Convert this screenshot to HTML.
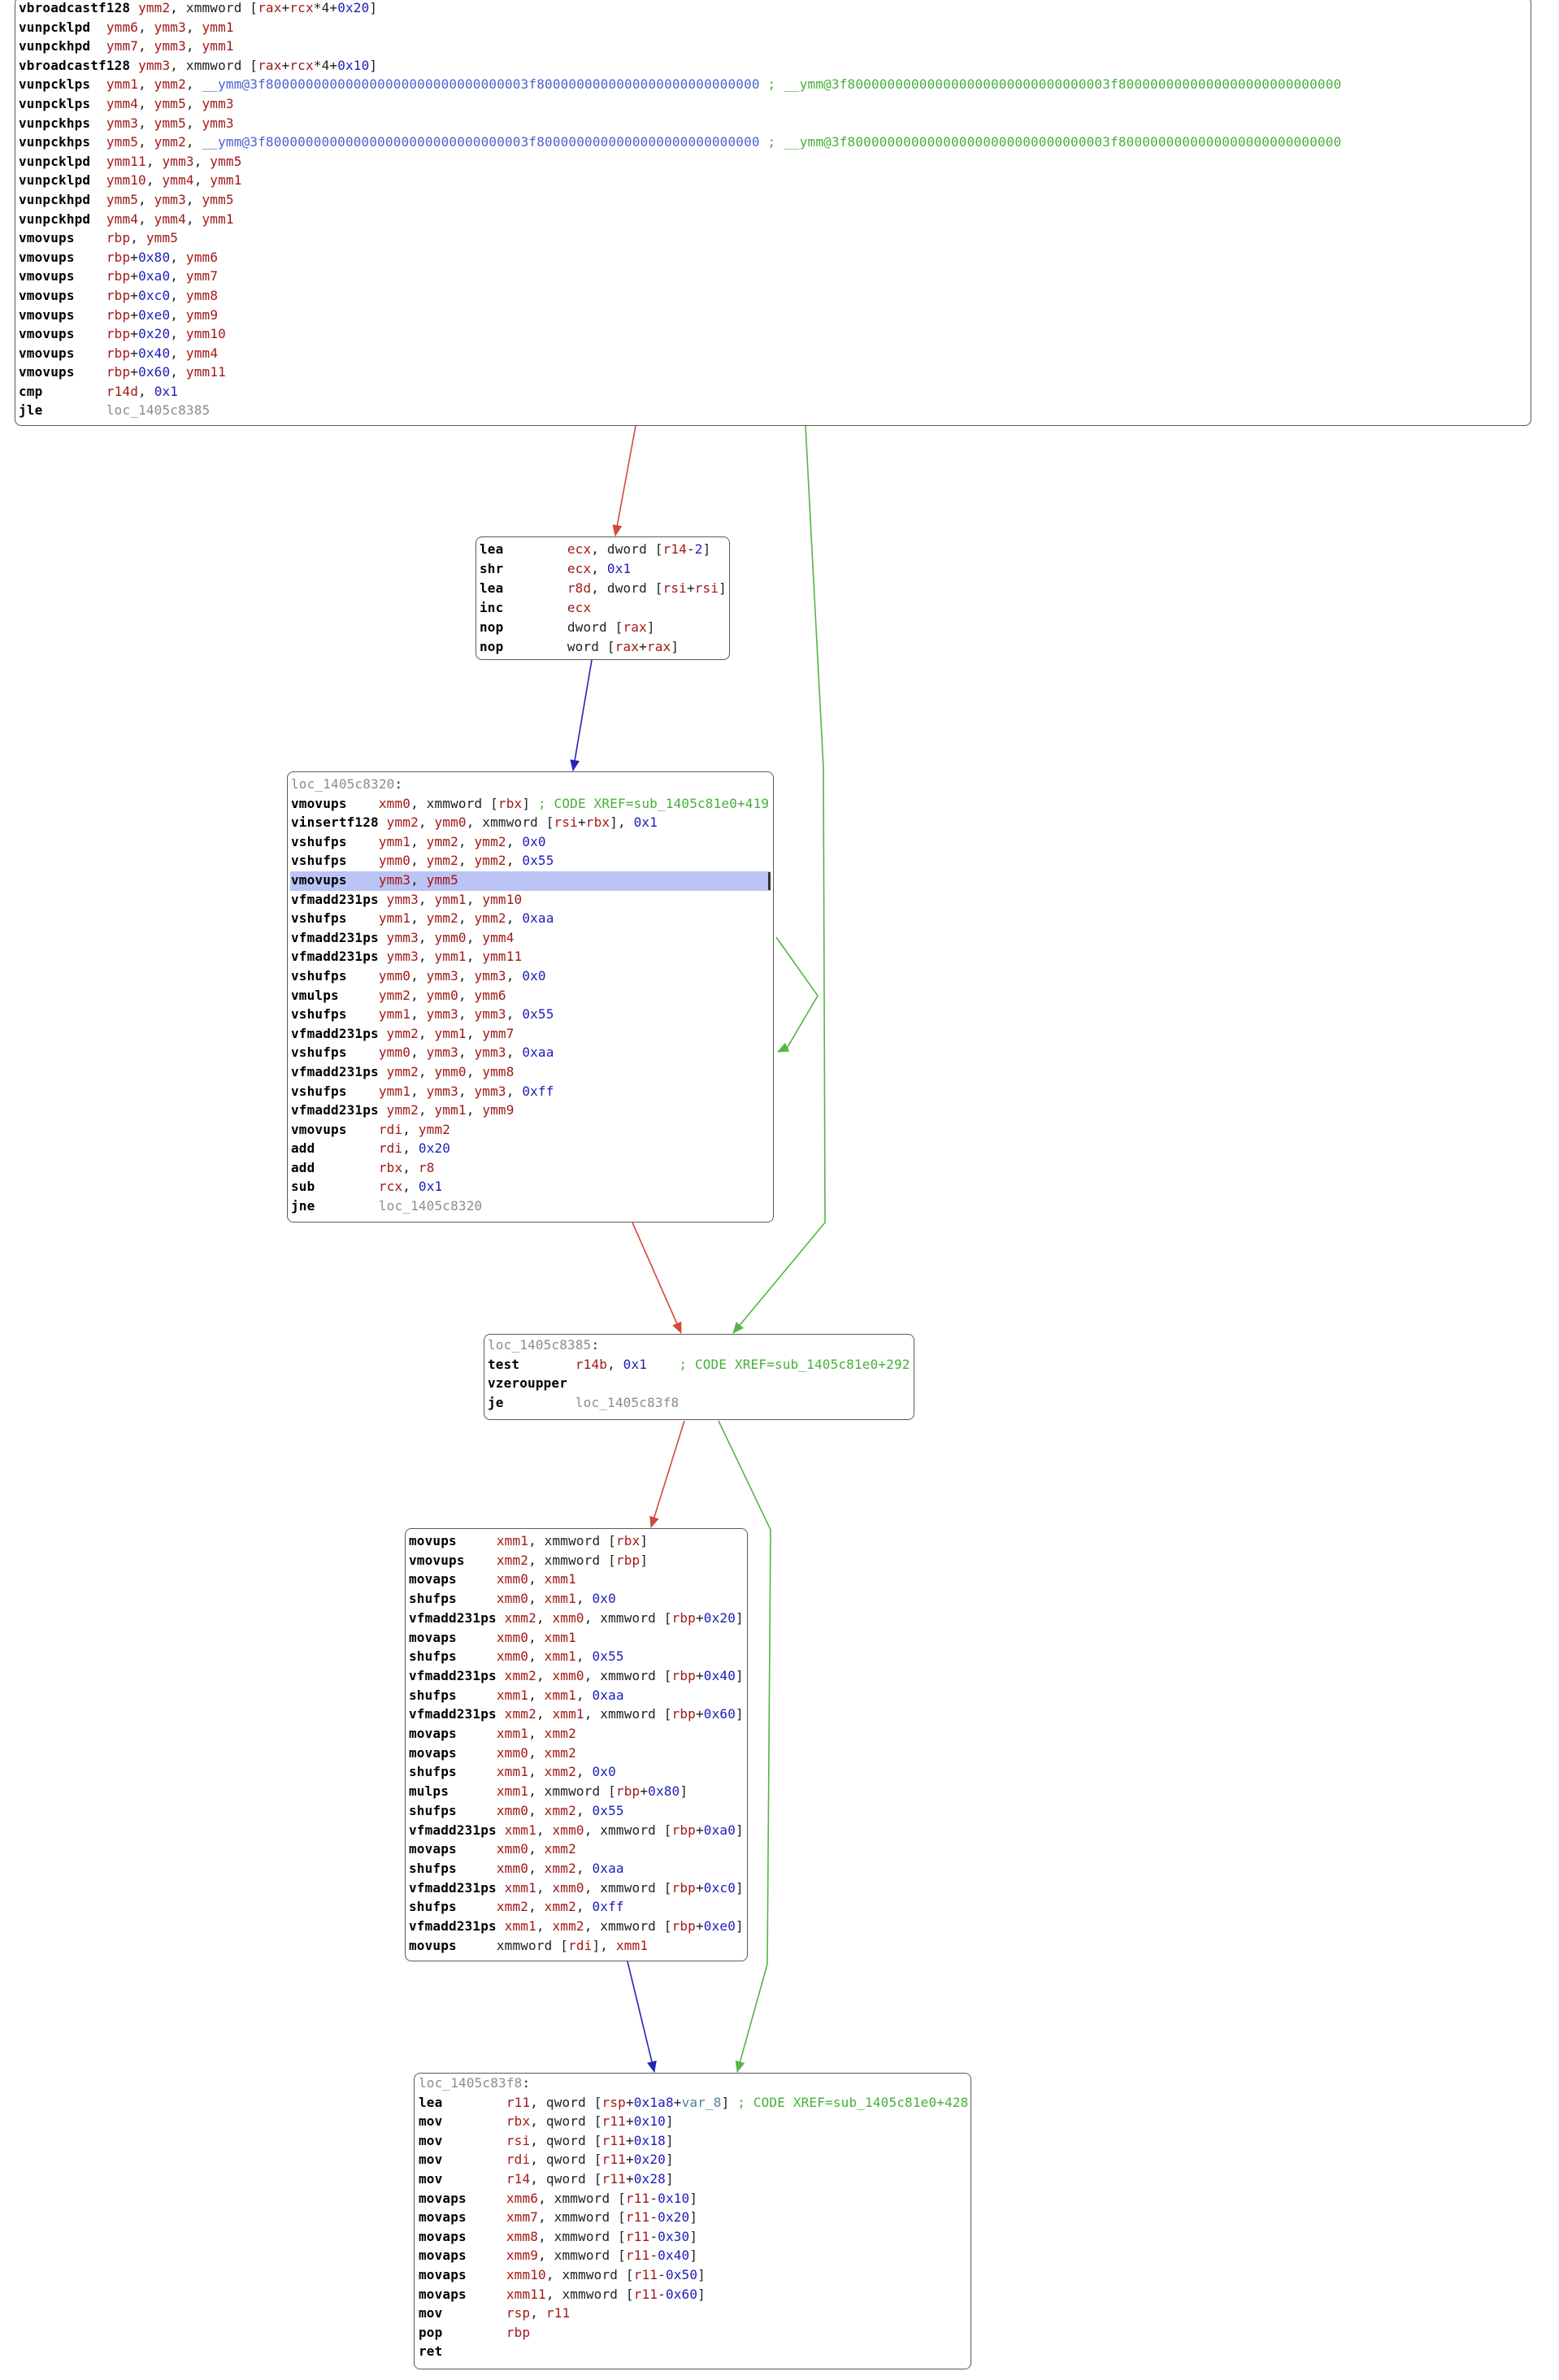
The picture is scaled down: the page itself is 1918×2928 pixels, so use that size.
<!DOCTYPE html>
<html><head><meta charset="utf-8">
<style>
html,body{margin:0;padding:0;background:#fff;}
body{width:1918px;height:2928px;position:relative;overflow:hidden;}
.box{position:absolute;border:1.5px solid #5a5a5a;border-radius:8px;background:#fff;box-sizing:border-box;}
.t{position:absolute;font-family:"DejaVu Sans Mono","Liberation Mono",monospace;font-size:16px;letter-spacing:0.17px;white-space:pre;color:#222;}
.t b{font-weight:bold;color:#000;}
.r{color:#a31818;}
.n{color:#1c1cb8;}
.l{color:#8c8c8c;}
.c{color:#46b03a;}
.k{color:#4a62d2;}
.v{color:#4f8296;}
svg{position:absolute;left:0;top:0;}
</style></head><body>

<div class="box" style="left:18px;top:-4px;width:1866px;height:528px;"></div>
<div class="t" style="left:23px;top:-2px;line-height:23.6px;"><b>vbroadcastf128</b> <span class="r">ymm2</span>, xmmword [<span class="r">rax</span>+<span class="r">rcx</span>*4+<span class="n">0x20</span>]
<b>vunpcklpd</b>  <span class="r">ymm6</span>, <span class="r">ymm3</span>, <span class="r">ymm1</span>
<b>vunpckhpd</b>  <span class="r">ymm7</span>, <span class="r">ymm3</span>, <span class="r">ymm1</span>
<b>vbroadcastf128</b> <span class="r">ymm3</span>, xmmword [<span class="r">rax</span>+<span class="r">rcx</span>*4+<span class="n">0x10</span>]
<b>vunpcklps</b>  <span class="r">ymm1</span>, <span class="r">ymm2</span>, <span class="k">__ymm@3f800000000000000000000000000000003f8000000000000000000000000000</span> <span class="c">; __ymm@3f800000000000000000000000000000003f8000000000000000000000000000</span>
<b>vunpcklps</b>  <span class="r">ymm4</span>, <span class="r">ymm5</span>, <span class="r">ymm3</span>
<b>vunpckhps</b>  <span class="r">ymm3</span>, <span class="r">ymm5</span>, <span class="r">ymm3</span>
<b>vunpckhps</b>  <span class="r">ymm5</span>, <span class="r">ymm2</span>, <span class="k">__ymm@3f800000000000000000000000000000003f8000000000000000000000000000</span> <span class="c">; __ymm@3f800000000000000000000000000000003f8000000000000000000000000000</span>
<b>vunpcklpd</b>  <span class="r">ymm11</span>, <span class="r">ymm3</span>, <span class="r">ymm5</span>
<b>vunpcklpd</b>  <span class="r">ymm10</span>, <span class="r">ymm4</span>, <span class="r">ymm1</span>
<b>vunpckhpd</b>  <span class="r">ymm5</span>, <span class="r">ymm3</span>, <span class="r">ymm5</span>
<b>vunpckhpd</b>  <span class="r">ymm4</span>, <span class="r">ymm4</span>, <span class="r">ymm1</span>
<b>vmovups</b>    <span class="r">rbp</span>, <span class="r">ymm5</span>
<b>vmovups</b>    <span class="r">rbp</span>+<span class="n">0x80</span>, <span class="r">ymm6</span>
<b>vmovups</b>    <span class="r">rbp</span>+<span class="n">0xa0</span>, <span class="r">ymm7</span>
<b>vmovups</b>    <span class="r">rbp</span>+<span class="n">0xc0</span>, <span class="r">ymm8</span>
<b>vmovups</b>    <span class="r">rbp</span>+<span class="n">0xe0</span>, <span class="r">ymm9</span>
<b>vmovups</b>    <span class="r">rbp</span>+<span class="n">0x20</span>, <span class="r">ymm10</span>
<b>vmovups</b>    <span class="r">rbp</span>+<span class="n">0x40</span>, <span class="r">ymm4</span>
<b>vmovups</b>    <span class="r">rbp</span>+<span class="n">0x60</span>, <span class="r">ymm11</span>
<b>cmp</b>        <span class="r">r14d</span>, <span class="n">0x1</span>
<b>jle</b>        <span class="l">loc_1405c8385</span></div>

<div class="box" style="left:585px;top:660px;width:313px;height:152px;"></div>
<div class="t" style="left:590px;top:664px;line-height:24px;"><b>lea</b>        <span class="r">ecx</span>, dword [<span class="r">r14</span>-<span class="n">2</span>]
<b>shr</b>        <span class="r">ecx</span>, <span class="n">0x1</span>
<b>lea</b>        <span class="r">r8d</span>, dword [<span class="r">rsi</span>+<span class="r">rsi</span>]
<b>inc</b>        <span class="r">ecx</span>
<b>nop</b>        dword [<span class="r">rax</span>]
<b>nop</b>        word [<span class="r">rax</span>+<span class="r">rax</span>]</div>

<div class="box" style="left:353px;top:949px;width:599px;height:555px;"></div>
<div style="position:absolute;left:357px;top:1072px;width:591px;height:24px;background:#bcc3f5;"></div>
<div style="position:absolute;left:945px;top:1073px;width:3px;height:22px;background:#333;"></div>
<div class="t" style="left:358px;top:953px;line-height:23.6px;"><span class="l">loc_1405c8320</span>:
<b>vmovups</b>    <span class="r">xmm0</span>, xmmword [<span class="r">rbx</span>] <span class="c">; CODE XREF=sub_1405c81e0+419</span>
<b>vinsertf128</b> <span class="r">ymm2</span>, <span class="r">ymm0</span>, xmmword [<span class="r">rsi</span>+<span class="r">rbx</span>], <span class="n">0x1</span>
<b>vshufps</b>    <span class="r">ymm1</span>, <span class="r">ymm2</span>, <span class="r">ymm2</span>, <span class="n">0x0</span>
<b>vshufps</b>    <span class="r">ymm0</span>, <span class="r">ymm2</span>, <span class="r">ymm2</span>, <span class="n">0x55</span>
<b>vmovups</b>    <span class="r">ymm3</span>, <span class="r">ymm5</span>
<b>vfmadd231ps</b> <span class="r">ymm3</span>, <span class="r">ymm1</span>, <span class="r">ymm10</span>
<b>vshufps</b>    <span class="r">ymm1</span>, <span class="r">ymm2</span>, <span class="r">ymm2</span>, <span class="n">0xaa</span>
<b>vfmadd231ps</b> <span class="r">ymm3</span>, <span class="r">ymm0</span>, <span class="r">ymm4</span>
<b>vfmadd231ps</b> <span class="r">ymm3</span>, <span class="r">ymm1</span>, <span class="r">ymm11</span>
<b>vshufps</b>    <span class="r">ymm0</span>, <span class="r">ymm3</span>, <span class="r">ymm3</span>, <span class="n">0x0</span>
<b>vmulps</b>     <span class="r">ymm2</span>, <span class="r">ymm0</span>, <span class="r">ymm6</span>
<b>vshufps</b>    <span class="r">ymm1</span>, <span class="r">ymm3</span>, <span class="r">ymm3</span>, <span class="n">0x55</span>
<b>vfmadd231ps</b> <span class="r">ymm2</span>, <span class="r">ymm1</span>, <span class="r">ymm7</span>
<b>vshufps</b>    <span class="r">ymm0</span>, <span class="r">ymm3</span>, <span class="r">ymm3</span>, <span class="n">0xaa</span>
<b>vfmadd231ps</b> <span class="r">ymm2</span>, <span class="r">ymm0</span>, <span class="r">ymm8</span>
<b>vshufps</b>    <span class="r">ymm1</span>, <span class="r">ymm3</span>, <span class="r">ymm3</span>, <span class="n">0xff</span>
<b>vfmadd231ps</b> <span class="r">ymm2</span>, <span class="r">ymm1</span>, <span class="r">ymm9</span>
<b>vmovups</b>    <span class="r">rdi</span>, <span class="r">ymm2</span>
<b>add</b>        <span class="r">rdi</span>, <span class="n">0x20</span>
<b>add</b>        <span class="r">rbx</span>, <span class="r">r8</span>
<b>sub</b>        <span class="r">rcx</span>, <span class="n">0x1</span>
<b>jne</b>        <span class="l">loc_1405c8320</span></div>

<div class="box" style="left:595px;top:1641px;width:530px;height:106px;"></div>
<div class="t" style="left:600px;top:1643px;line-height:23.7px;"><span class="l">loc_1405c8385</span>:
<b>test</b>       <span class="r">r14b</span>, <span class="n">0x1</span>    <span class="c">; CODE XREF=sub_1405c81e0+292</span>
<b>vzeroupper</b>
<b>je</b>         <span class="l">loc_1405c83f8</span></div>

<div class="box" style="left:498px;top:1880px;width:422px;height:533px;"></div>
<div class="t" style="left:503px;top:1884px;line-height:23.7px;"><b>movups</b>     <span class="r">xmm1</span>, xmmword [<span class="r">rbx</span>]
<b>vmovups</b>    <span class="r">xmm2</span>, xmmword [<span class="r">rbp</span>]
<b>movaps</b>     <span class="r">xmm0</span>, <span class="r">xmm1</span>
<b>shufps</b>     <span class="r">xmm0</span>, <span class="r">xmm1</span>, <span class="n">0x0</span>
<b>vfmadd231ps</b> <span class="r">xmm2</span>, <span class="r">xmm0</span>, xmmword [<span class="r">rbp</span>+<span class="n">0x20</span>]
<b>movaps</b>     <span class="r">xmm0</span>, <span class="r">xmm1</span>
<b>shufps</b>     <span class="r">xmm0</span>, <span class="r">xmm1</span>, <span class="n">0x55</span>
<b>vfmadd231ps</b> <span class="r">xmm2</span>, <span class="r">xmm0</span>, xmmword [<span class="r">rbp</span>+<span class="n">0x40</span>]
<b>shufps</b>     <span class="r">xmm1</span>, <span class="r">xmm1</span>, <span class="n">0xaa</span>
<b>vfmadd231ps</b> <span class="r">xmm2</span>, <span class="r">xmm1</span>, xmmword [<span class="r">rbp</span>+<span class="n">0x60</span>]
<b>movaps</b>     <span class="r">xmm1</span>, <span class="r">xmm2</span>
<b>movaps</b>     <span class="r">xmm0</span>, <span class="r">xmm2</span>
<b>shufps</b>     <span class="r">xmm1</span>, <span class="r">xmm2</span>, <span class="n">0x0</span>
<b>mulps</b>      <span class="r">xmm1</span>, xmmword [<span class="r">rbp</span>+<span class="n">0x80</span>]
<b>shufps</b>     <span class="r">xmm0</span>, <span class="r">xmm2</span>, <span class="n">0x55</span>
<b>vfmadd231ps</b> <span class="r">xmm1</span>, <span class="r">xmm0</span>, xmmword [<span class="r">rbp</span>+<span class="n">0xa0</span>]
<b>movaps</b>     <span class="r">xmm0</span>, <span class="r">xmm2</span>
<b>shufps</b>     <span class="r">xmm0</span>, <span class="r">xmm2</span>, <span class="n">0xaa</span>
<b>vfmadd231ps</b> <span class="r">xmm1</span>, <span class="r">xmm0</span>, xmmword [<span class="r">rbp</span>+<span class="n">0xc0</span>]
<b>shufps</b>     <span class="r">xmm2</span>, <span class="r">xmm2</span>, <span class="n">0xff</span>
<b>vfmadd231ps</b> <span class="r">xmm1</span>, <span class="r">xmm2</span>, xmmword [<span class="r">rbp</span>+<span class="n">0xe0</span>]
<b>movups</b>     xmmword [<span class="r">rdi</span>], <span class="r">xmm1</span></div>

<div class="box" style="left:509px;top:2550px;width:686px;height:365px;"></div>
<div class="t" style="left:515px;top:2551px;line-height:23.6px;"><span class="l">loc_1405c83f8</span>:
<b>lea</b>        <span class="r">r11</span>, qword [<span class="r">rsp</span>+<span class="n">0x1a8</span>+<span class="v">var_8</span>] <span class="c">; CODE XREF=sub_1405c81e0+428</span>
<b>mov</b>        <span class="r">rbx</span>, qword [<span class="r">r11</span>+<span class="n">0x10</span>]
<b>mov</b>        <span class="r">rsi</span>, qword [<span class="r">r11</span>+<span class="n">0x18</span>]
<b>mov</b>        <span class="r">rdi</span>, qword [<span class="r">r11</span>+<span class="n">0x20</span>]
<b>mov</b>        <span class="r">r14</span>, qword [<span class="r">r11</span>+<span class="n">0x28</span>]
<b>movaps</b>     <span class="r">xmm6</span>, xmmword [<span class="r">r11</span>-<span class="n">0x10</span>]
<b>movaps</b>     <span class="r">xmm7</span>, xmmword [<span class="r">r11</span>-<span class="n">0x20</span>]
<b>movaps</b>     <span class="r">xmm8</span>, xmmword [<span class="r">r11</span>-<span class="n">0x30</span>]
<b>movaps</b>     <span class="r">xmm9</span>, xmmword [<span class="r">r11</span>-<span class="n">0x40</span>]
<b>movaps</b>     <span class="r">xmm10</span>, xmmword [<span class="r">r11</span>-<span class="n">0x50</span>]
<b>movaps</b>     <span class="r">xmm11</span>, xmmword [<span class="r">r11</span>-<span class="n">0x60</span>]
<b>mov</b>        <span class="r">rsp</span>, <span class="r">r11</span>
<b>pop</b>        <span class="r">rbp</span>
<b>ret</b></div>

<svg width="1918" height="2928" viewBox="0 0 1918 2928">
<defs>
<marker id="ar" markerWidth="14" markerHeight="12" refX="13" refY="6" orient="auto" markerUnits="userSpaceOnUse"><path d="M0,0 L14,6 L0,12 z" fill="#d04a3a"/></marker>
<marker id="ab" markerWidth="14" markerHeight="12" refX="13" refY="6" orient="auto" markerUnits="userSpaceOnUse"><path d="M0,0 L14,6 L0,12 z" fill="#2424b8"/></marker>
<marker id="ag" markerWidth="14" markerHeight="12" refX="13" refY="6" orient="auto" markerUnits="userSpaceOnUse"><path d="M0,0 L14,6 L0,12 z" fill="#55b545"/></marker>
</defs>
<g fill="none" stroke-width="1.6">
<path d="M782,524 L757,659" stroke="#d04a3a" marker-end="url(#ar)"/>
<path d="M728,812 L705,948" stroke="#2424b8" marker-end="url(#ab)"/>
<path d="M991,524 L1013,944 L1015,1504 L902,1640" stroke="#55b545" marker-end="url(#ag)"/>
<path d="M955,1153 L1006,1225 L969,1288 L957,1294" stroke="#55b545" marker-end="url(#ag)"/>
<path d="M778,1504 L838,1640" stroke="#d04a3a" marker-end="url(#ar)"/>
<path d="M842,1748 L801,1879" stroke="#d04a3a" marker-end="url(#ar)"/>
<path d="M884,1748 L948,1882 L944,2416 L943,2420 L907,2549" stroke="#55b545" marker-end="url(#ag)"/>
<path d="M772,2413 L805,2549" stroke="#2424b8" marker-end="url(#ab)"/>
</g>
</svg>
</body></html>
